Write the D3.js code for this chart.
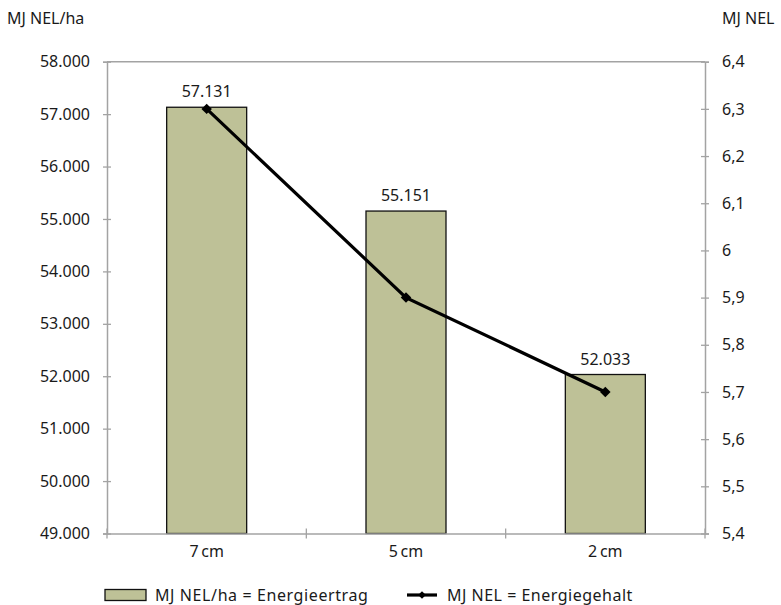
<!DOCTYPE html>
<html>
<head>
<meta charset="utf-8">
<script src="https://cdn.jsdelivr.net/npm/d3@7/dist/d3.min.js"></script>
<style>
  body { margin: 0; background: #fff; }
  svg { display: block; }
  svg text { font-family: "Noto Sans", "Open Sans", sans-serif; fill: #1a1a1a; }
</style>
</head>
<body>
<svg id="chart" width="781" height="605"></svg>
<script>
// Schnittlänge vs. Energieertrag (Balken) und Energiegehalt (Linie)
const categories = ["7\u202Fcm", "5\u202Fcm", "2\u202Fcm"];
const energieertrag = [57131, 55151, 52033];   // MJ NEL/ha
const energiegehalt = [6.3, 5.9, 5.7];         // MJ NEL
const leftTicks = [49000, 50000, 51000, 52000, 53000, 54000, 55000, 56000, 57000, 58000];
const rightTicks = [5.4, 5.5, 5.6, 5.7, 5.8, 5.9, 6.0, 6.1, 6.2, 6.3, 6.4];

const svg = d3.select("#chart");
const m = { left: 107, right: 705, top: 61.7, bottom: 533.5 };
const axisColor = "#a3a3a3";
const barFill = "#bec197";
const fs = 16;

const x = d3.scaleBand().domain(categories).range([m.left, m.right]).paddingInner(0).paddingOuter(0);
const yL = d3.scaleLinear().domain([49000, 58000]).range([m.bottom, m.top]);
const yR = d3.scaleLinear().domain([5.4, 6.4]).range([m.bottom, m.top]);

const fmtL = d => d3.format(",")(d).replace(/,/g, ".");
const fmtR = d => (Math.round(d * 10) / 10).toString().replace(".", ",");

// Plot frame
svg.append("line").attr("x1", m.left).attr("x2", m.right).attr("y1", m.top).attr("y2", m.top)
  .attr("stroke", axisColor).attr("stroke-width", 1.5);

// Bars
const bw = 80;
svg.selectAll("rect.bar").data(categories).join("rect")
  .attr("class", "bar")
  .attr("x", d => x(d) + x.bandwidth() / 2 - bw / 2)
  .attr("width", bw)
  .attr("y", (d, i) => yL(energieertrag[i]))
  .attr("height", (d, i) => m.bottom - yL(energieertrag[i]))
  .attr("fill", barFill)
  .attr("stroke", "#111")
  .attr("stroke-width", 1.3);

// Bar value labels
svg.selectAll("text.val").data(categories).join("text")
  .attr("class", "val")
  .attr("x", d => x(d) + x.bandwidth() / 2)
  .attr("y", (d, i) => yL(energieertrag[i]) - 10)
  .attr("text-anchor", "middle")
  .attr("font-size", fs)
  .text((d, i) => fmtL(energieertrag[i]));

// Axes
function styleAxis(g) {
  g.attr("font-family", null).attr("font-size", fs);
  g.selectAll(".domain").attr("stroke", axisColor).attr("stroke-width", 1.5);
  g.selectAll(".tick line").attr("stroke", axisColor).attr("stroke-width", 1.3);
  g.selectAll(".tick text").attr("font-size", fs).attr("fill", "#1a1a1a");
}

const gL = svg.append("g").attr("transform", `translate(${m.left},0)`)
  .call(d3.axisLeft(yL).tickValues(leftTicks).tickFormat(fmtL).tickSizeOuter(0).tickSize(4).tickPadding(13));
gL.selectAll(".tick line").attr("x2", 4).attr("x1", -4);
styleAxis(gL);

const gR = svg.append("g").attr("transform", `translate(${m.right},0)`)
  .call(d3.axisRight(yR).tickValues(rightTicks).tickFormat(fmtR).tickSizeOuter(0).tickSize(4).tickPadding(13));
gR.selectAll(".tick line").attr("x1", -4).attr("x2", 4);
styleAxis(gR);

const gB = svg.append("g").attr("transform", `translate(0,${m.bottom})`)
  .call(d3.axisBottom(x).tickSizeOuter(0).tickSize(0).tickPadding(10));
styleAxis(gB);
// category separators crossing the baseline
const seps = [m.left, ...categories.map(c => x(c) + x.bandwidth())];
gB.selectAll("line.sep").data(seps).join("line").attr("class", "sep")
  .attr("x1", d => d).attr("x2", d => d).attr("y1", -5).attr("y2", 5)
  .attr("stroke", axisColor).attr("stroke-width", 1.3);
gB.selectAll(".tick text").attr("dy", "0.85em");

// Axis titles
svg.append("text").attr("x", 7).attr("y", 24).attr("font-size", fs).text("MJ NEL/ha");
svg.append("text").attr("x", 722).attr("y", 24).attr("font-size", fs).text("MJ NEL");

// Line series
const line = d3.line().x((d, i) => x(categories[i]) + x.bandwidth() / 2).y(d => yR(d));
svg.append("path").datum(energiegehalt).attr("d", line)
  .attr("fill", "none").attr("stroke", "#000").attr("stroke-width", 3.2);
svg.selectAll("path.mk").data(energiegehalt).join("path").attr("class", "mk")
  .attr("d", d3.symbol(d3.symbolSquare, 55))
  .attr("transform", (d, i) => `translate(${x(categories[i]) + x.bandwidth() / 2},${yR(d)}) rotate(45)`)
  .attr("fill", "#000");

// Legend
const ly = 595;
svg.append("rect").attr("x", 105).attr("y", ly - 5.5).attr("width", 41).attr("height", 11)
  .attr("fill", barFill).attr("stroke", "#111").attr("stroke-width", 1.3);
svg.append("text").attr("x", 155).attr("y", ly).attr("dy", "0.35em").attr("font-size", fs)
  .attr("letter-spacing", 0.6).text("MJ NEL/ha = Energieertrag");
svg.append("line").attr("x1", 407).attr("x2", 437).attr("y1", ly).attr("y2", ly)
  .attr("stroke", "#000").attr("stroke-width", 3.2);
svg.append("path").attr("d", d3.symbol(d3.symbolSquare, 30))
  .attr("transform", `translate(422,${ly}) rotate(45)`).attr("fill", "#000");
svg.append("text").attr("x", 447).attr("y", ly).attr("dy", "0.35em").attr("font-size", fs)
  .attr("letter-spacing", 0.5).text("MJ NEL = Energiegehalt");
</script>
</body>
</html>
